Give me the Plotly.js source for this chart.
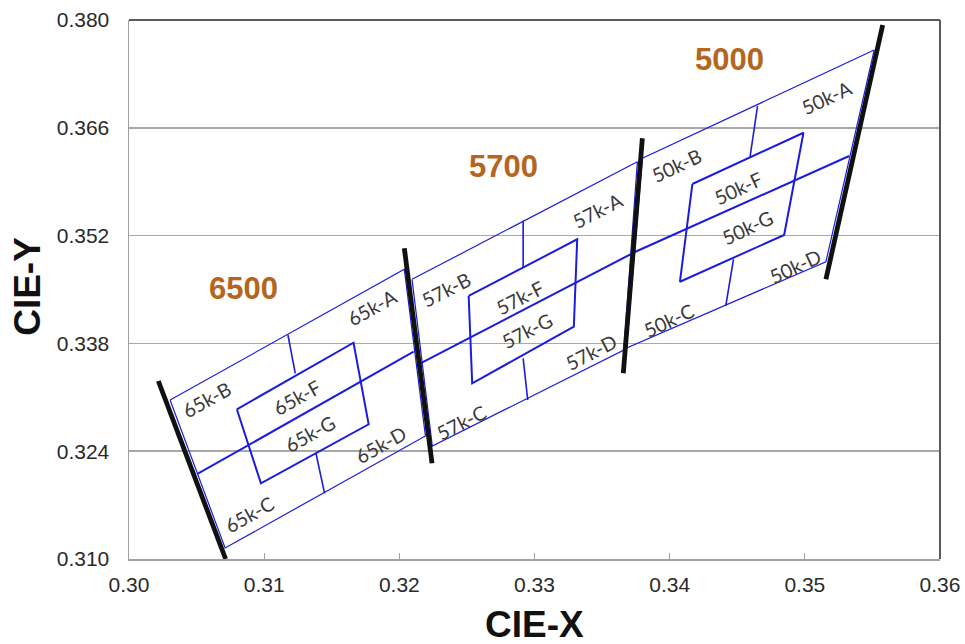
<!DOCTYPE html>
<html>
<head>
<meta charset="utf-8">
<script src="https://cdn.plot.ly/plotly-3.0.1.min.js"></script>
<style>html,body{margin:0;padding:0;background:#fff;}#chart{width:965px;height:644px;}</style>
</head>
<body>
<div id="chart"></div>
<script>
// ---- data (CIE x, y) ----
const xTicks = [0.30, 0.31, 0.32, 0.33, 0.34, 0.35, 0.36];
const yTicks = [0.310, 0.324, 0.338, 0.352, 0.366, 0.380];

// quadrangle outlines: TL, TR, BR, BL, TL  (65k, 57k, 50k)
const quadX = [
  [0.30304, 0.32037, 0.32193, 0.30711, 0.30304],
  [0.32094, 0.33761, 0.33661, 0.32244, 0.32094],
  [0.33798, 0.35513, 0.35156, 0.33681, 0.33798]
];
const quadY = [
  [0.33065, 0.34762, 0.32597, 0.31143, 0.33065],
  [0.34632, 0.36160, 0.33714, 0.32468, 0.34632],
  [0.36204, 0.37610, 0.34861, 0.33740, 0.36204]
];
// centre lines (left side -> right side)
const midX = [[0.30506, 0.32106], [0.32156, 0.33724], [0.33726, 0.35328]];
const midY = [[0.32104, 0.33692], [0.33542, 0.34970], [0.34974, 0.36234]];
// F/G inner boxes: TL, TR, BR, BL, TL
const boxX = [
  [0.30798, 0.31661, 0.31773, 0.30976, 0.30798],
  [0.32513, 0.33316, 0.33291, 0.32539, 0.32513],
  [0.34168, 0.34990, 0.34847, 0.34076, 0.34168]
];
const boxY = [
  [0.32944, 0.33809, 0.32749, 0.31983, 0.32944],
  [0.34416, 0.35152, 0.34017, 0.33282, 0.34416],
  [0.35870, 0.36536, 0.35208, 0.34601, 0.35870]
];
// A/B divider (top edge -> box) and C/D divider (box -> bottom edge)
const topDivX = [[0.31176, 0.31230], [0.32916, 0.32916], [0.34650, 0.34595]];
const topDivY = [[0.33909, 0.33412], [0.35393, 0.34788], [0.36883, 0.36225]];
const botDivX = [[0.31383, 0.31447], [0.32916, 0.32950], [0.34472, 0.34415]];
const botDivY = [[0.32373, 0.31853], [0.33606, 0.33065], [0.34892, 0.34286]];

// thick CCT boundary lines
const cctLineX = [[0.30217, 0.30715], [0.32037, 0.32242], [0.33798, 0.33657], [0.35576, 0.35156]];
const cctLineY = [[0.33312, 0.31000], [0.35035, 0.32243], [0.36464, 0.33412], [0.37935, 0.34632]];

// CCT titles
const cctNames = ['6500', '5700', '5000'];
const cctNameX = [0.30847, 0.32773, 0.34439];
const cctNameY = [0.34516, 0.36095, 0.37490];

// bin labels
const binNames = ['65k-A','65k-B','65k-C','65k-D','65k-F','65k-G',
                  '57k-A','57k-B','57k-C','57k-D','57k-F','57k-G',
                  '50k-A','50k-B','50k-C','50k-D','50k-F','50k-G'];
const binX = [0.31800,0.30578,0.30889,0.31867,0.31244,0.31341,
              0.33467,0.32348,0.32459,0.33415,0.32896,0.32948,
              0.35163,0.34052,0.33993,0.34926,0.34504,0.34578];
const binY = [0.34260,0.33065,0.31584,0.32481,0.33091,0.32636,
              0.35532,0.34506,0.32779,0.33688,0.34390,0.33974,
              0.37000,0.36104,0.34091,0.34805,0.35818,0.35299];
const binAngle = [-29,-29,-29,-29,-29,-29,
                  -27,-27,-27,-27,-27,-27,
                  -25,-25,-25,-25,-25,-25];

// ---- build traces ----
const BLUE = 'rgb(28,28,222)';
const traces = [];
function addLine(xs, ys, width, color) {
  traces.push({x: xs, y: ys, type: 'scatter', mode: 'lines',
    line: {color: color, width: width}, hoverinfo: 'skip', showlegend: false});
}
for (let i = 0; i < quadX.length; i++) {
  addLine(quadX[i], quadY[i], 1.2, BLUE);
  addLine(midX[i], midY[i], 2, BLUE);
  addLine(boxX[i], boxY[i], 2, BLUE);
  addLine(topDivX[i], topDivY[i], 1.6, BLUE);
  addLine(botDivX[i], botDivY[i], 1.6, BLUE);
}
for (let i = 0; i < cctLineX.length; i++) {
  addLine(cctLineX[i], cctLineY[i], 4.8, '#111');
}

const annotations = [];
for (let i = 0; i < binNames.length; i++) {
  annotations.push({x: binX[i], y: binY[i], xref: 'x', yref: 'y', text: binNames[i],
    showarrow: false, textangle: binAngle[i],
    font: {family: 'Lato, "Open Sans", sans-serif', size: 19.5, color: '#3a3a3a'}});
}
for (let i = 0; i < cctNames.length; i++) {
  annotations.push({x: cctNameX[i], y: cctNameY[i], xref: 'x', yref: 'y', text: '<b>' + cctNames[i] + '</b>',
    showarrow: false, font: {family: '"Liberation Sans", Arial, sans-serif', size: 31, color: '#b5651d'}});
}
annotations.push({x: 0.5, y: -0.122, xref: 'paper', yref: 'paper', xanchor: 'center', yanchor: 'middle',
  text: '<b>CIE-X</b>', showarrow: false,
  font: {family: '"Liberation Sans", Arial, sans-serif', size: 37, color: '#111'}});
annotations.push({x: -0.1245, y: 0.505, xref: 'paper', yref: 'paper', xanchor: 'center', yanchor: 'middle',
  text: '<b>CIE-Y</b>', textangle: -90, showarrow: false,
  font: {family: '"Liberation Sans", Arial, sans-serif', size: 37, color: '#111'}});

const layout = {
  width: 965, height: 644,
  margin: {l: 129, r: 25, t: 20, b: 85},
  paper_bgcolor: '#fff', plot_bgcolor: '#fff',
  showlegend: false,
  font: {family: '"Liberation Sans", Arial, sans-serif', size: 21, color: '#2a2a2a'},
  xaxis: {range: [0.30, 0.36], tickmode: 'array', tickvals: xTicks,
    ticktext: xTicks.map(v => v.toFixed(2)),
    showgrid: false, zeroline: false, showline: true, linecolor: '#a0a0a0', linewidth: 1.5,
    ticks: 'inside', ticklen: 6, tickcolor: '#a0a0a0', tickwidth: 1.2, ticklabelstandoff: 6,
    fixedrange: true},
  yaxis: {range: [0.31, 0.38], tickmode: 'array', tickvals: yTicks,
    ticktext: yTicks.map(v => v.toFixed(3)),
    showgrid: true, gridcolor: '#a8a8a8', gridwidth: 1.5, zeroline: false,
    showline: true, linecolor: '#a0a0a0', linewidth: 1.5, ticks: '', ticklabelstandoff: 14,
    fixedrange: true},
  shapes: [
    {type: 'line', xref: 'paper', yref: 'paper', x0: 0, x1: 1, y0: 1, y1: 1, line: {color: '#5a5a5a', width: 2}},
    {type: 'line', xref: 'paper', yref: 'paper', x0: 1, x1: 1, y0: 0, y1: 1, line: {color: '#5a5a5a', width: 2}}
  ],
  annotations: annotations
};

Plotly.newPlot('chart', traces, layout, {displayModeBar: false, staticPlot: true});
</script>
</body>
</html>
